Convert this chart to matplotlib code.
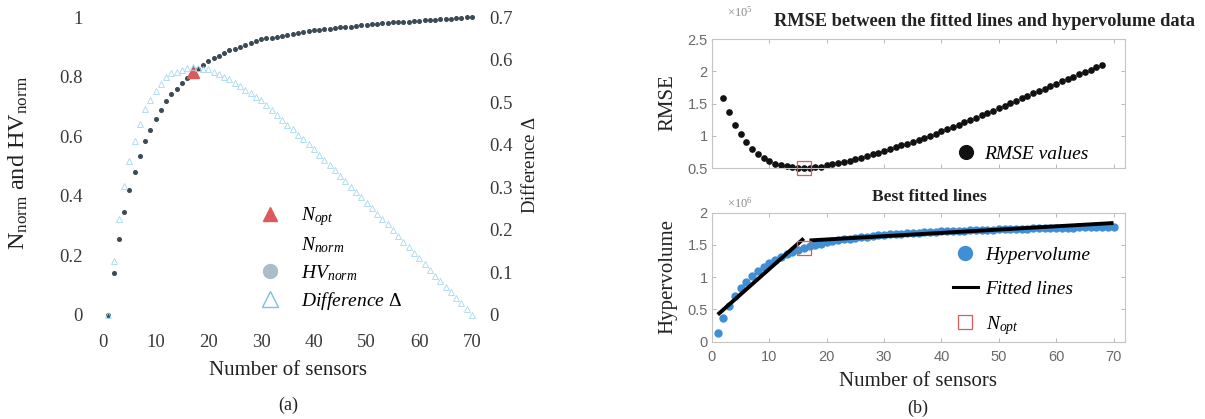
import matplotlib
matplotlib.use("Agg")
import matplotlib.pyplot as plt
from matplotlib.lines import Line2D
from matplotlib.ticker import FuncFormatter

plt.rcParams['mathtext.fontset'] = 'custom'
plt.rcParams['mathtext.rm'] = 'Liberation Serif'
plt.rcParams['mathtext.it'] = 'Liberation Serif:italic'
plt.rcParams['mathtext.bf'] = 'Liberation Serif:bold'

# ---------------- data ----------------
sensors = list(range(1, 71))

# (a) normalised hypervolume
hv_norm = [0.000, 0.140, 0.255, 0.347, 0.420, 0.481, 0.535, 0.584, 0.620, 0.657,
           0.687, 0.718, 0.742, 0.760, 0.779, 0.797, 0.815, 0.827, 0.839, 0.852,
           0.861, 0.870, 0.879, 0.888, 0.894, 0.900, 0.906, 0.912, 0.918, 0.925,
           0.928, 0.931, 0.934, 0.937, 0.940, 0.943, 0.946, 0.949, 0.952, 0.955,
           0.957, 0.959, 0.961, 0.963, 0.965, 0.967, 0.968, 0.970, 0.972, 0.974,
           0.976, 0.977, 0.979, 0.981, 0.982, 0.983, 0.984, 0.985, 0.987, 0.988,
           0.989, 0.990, 0.991, 0.993, 0.994, 0.995, 0.996, 0.998, 0.999, 1.000]

# (a) difference Delta (right axis)
delta = [0.000, 0.126, 0.226, 0.304, 0.362, 0.409, 0.448, 0.483, 0.504, 0.527,
         0.542, 0.559, 0.568, 0.572, 0.576, 0.580, 0.583, 0.581, 0.578, 0.577,
         0.571, 0.566, 0.560, 0.555, 0.546, 0.538, 0.529, 0.521, 0.512, 0.505,
         0.493, 0.482, 0.470, 0.459, 0.447, 0.436, 0.424, 0.413, 0.401, 0.390,
         0.377, 0.365, 0.352, 0.340, 0.327, 0.315, 0.301, 0.289, 0.276, 0.264,
         0.251, 0.238, 0.225, 0.213, 0.199, 0.186, 0.172, 0.159, 0.146, 0.133,
         0.119, 0.106, 0.092, 0.080, 0.066, 0.053, 0.039, 0.027, 0.013, 0.000]

n_opt = 17
n_opt_value = 0.815

# (b) RMSE (x 1e5) for breakpoints 2..68
rmse_sensors = list(range(2, 69))
rmse = [1.585, 1.363, 1.172, 1.027, 0.903, 0.800, 0.722, 0.655, 0.603, 0.567,
        0.547, 0.526, 0.515, 0.505, 0.500, 0.505, 0.510, 0.520, 0.540, 0.555,
        0.575, 0.595, 0.615, 0.635, 0.660, 0.685, 0.710, 0.735, 0.760, 0.790,
        0.820, 0.850, 0.880, 0.910, 0.940, 0.970, 1.000, 1.035, 1.070, 1.105,
        1.140, 1.175, 1.210, 1.245, 1.280, 1.320, 1.355, 1.390, 1.430, 1.468,
        1.506, 1.544, 1.582, 1.620, 1.658, 1.696, 1.734, 1.772, 1.810, 1.846,
        1.882, 1.918, 1.954, 1.990, 2.026, 2.062, 2.098]
rmse_opt_x = 16
rmse_opt_y = 0.500

# (b) hypervolume (x 1e6)
hypervolume = [0.14, 0.37, 0.56, 0.71, 0.83, 0.93, 1.02, 1.10, 1.16, 1.22,
               1.27, 1.32, 1.36, 1.39, 1.42, 1.45, 1.48, 1.50, 1.52, 1.54,
               1.555, 1.57, 1.585, 1.60, 1.61, 1.62, 1.63, 1.64, 1.65, 1.66,
               1.665, 1.67, 1.675, 1.68, 1.685, 1.69, 1.695, 1.70, 1.705, 1.71,
               1.713, 1.716, 1.72, 1.723, 1.726, 1.729, 1.732, 1.735, 1.738, 1.741,
               1.744, 1.747, 1.75, 1.752, 1.754, 1.756, 1.758, 1.76, 1.762, 1.764,
               1.766, 1.768, 1.77, 1.772, 1.774, 1.776, 1.778, 1.78, 1.782, 1.784]

fit1_x = [1, 16]
fit1_y = [0.42, 1.60]
fit2_x = [17, 70]
fit2_y = [1.57, 1.84]
hv_opt_x = 16
hv_opt_y = 1.45

# ---------------- figure ----------------
W, H = 1205, 419
fig = plt.figure(figsize=(W / 100, H / 100), dpi=100)
SERIF = 'Liberation Serif'
SANS = 'Liberation Sans'
RED = '#de5a5a'


def rect(l, t, r, b):
    return [l / W, 1 - b / H, (r - l) / W, (b - t) / H]


# ---- (a) ----
ax1 = fig.add_axes(rect(97.7, 8.1, 482.5, 323.9))
ax1.set_xlim(-1, 72)
ax1.set_ylim(-0.03, 1.03)
for s in ax1.spines.values():
    s.set_visible(False)
ax1.set_xticks(range(0, 71, 10))
ax1.set_yticks([0, 0.2, 0.4, 0.6, 0.8, 1])
ax1.yaxis.set_major_formatter(FuncFormatter(lambda v, p: '%g' % v))
ax1.tick_params(length=0, labelsize=13.5, labelcolor='#3a3a3a', pad=7)
ax1.tick_params(axis='y', pad=11)
for lab in ax1.get_xticklabels() + ax1.get_yticklabels():
    lab.set_fontfamily(SERIF)

ax2 = ax1.twinx()
ax2.set_ylim(-0.03 * 0.7, 1.03 * 0.7)
for s in ax2.spines.values():
    s.set_visible(False)
ax2.set_yticks([0, 0.1, 0.2, 0.3, 0.4, 0.5, 0.6, 0.7])
ax2.yaxis.set_major_formatter(FuncFormatter(lambda v, p: '%g' % v))
ax2.tick_params(length=0, labelsize=13.5, labelcolor='#3a3a3a', pad=5)
for lab in ax2.get_yticklabels():
    lab.set_fontfamily(SERIF)

ax2.plot(sensors, delta, linestyle='none', marker='^', markersize=4.2,
         markerfacecolor='none', markeredgecolor='#a6d8f0', markeredgewidth=0.6)
ax1.plot(sensors, hv_norm, linestyle='none', marker='o', markersize=2.6,
         color='#3b4a54', zorder=4)
ax1.plot([n_opt], [n_opt_value], linestyle='none', marker='^', markersize=9,
         color=RED, zorder=5)

fig.text(18 / W, 1 - 163 / H, r'N$_{\mathrm{norm}}$ and HV$_{\mathrm{norm}}$',
         rotation=90, ha='center', va='center', fontsize=17.5, family=SERIF,
         color='#222222')
fig.text(530 / W, 1 - 165 / H, r'Difference $\Delta$', rotation=90,
         ha='center', va='center', fontsize=13.5, family=SERIF, color='#222222')
fig.text(288 / W, 1 - 370 / H, 'Number of sensors', ha='center', va='center',
         fontsize=15, family=SERIF, color='#222222')
fig.text(288 / W, 1 - 405 / H, '(a)', ha='center', va='center',
         fontsize=13, family=SERIF, color='#222222')

h_a = [Line2D([], [], linestyle='none', marker='^', markersize=10, color=RED),
       Line2D([], [], linestyle='none', marker='o', markersize=0, color='white'),
       Line2D([], [], linestyle='none', marker='o', markersize=10, color='#a9bdca'),
       Line2D([], [], linestyle='none', marker='^', markersize=11,
              markerfacecolor='none', markeredgecolor='#7cc0e6', markeredgewidth=1)]
l_a = [r'$N_{opt}$', r'$N_{norm}$', r'$HV_{norm}$', r'$\mathit{Difference}\ \mathit{\Delta}$']
leg_a = ax1.legend(h_a, l_a, loc='upper left', bbox_to_anchor=(241 / W, 1 - 188 / H),
                   bbox_transform=fig.transFigure, frameon=False, handlelength=1.2,
                   handletextpad=1.0, labelspacing=0.38, fontsize=14)

# ---- (b) top ----
def style_b(ax):
    for s in ax.spines.values():
        s.set_color('#c4c4c4')
        s.set_linewidth(0.8)
    ax.tick_params(direction='in', length=3, width=0.6, color='#b0b0b0',
                   labelsize=10.5, labelcolor='#6a6a6a', top=True, right=True, pad=3)
    ax.tick_params(axis='x', pad=6)
    for lab in ax.get_xticklabels() + ax.get_yticklabels():
        lab.set_fontfamily(SANS)
    ax.yaxis.set_major_formatter(FuncFormatter(lambda v, p: '%g' % v))


ax3 = fig.add_axes(rect(712, 39.3, 1125, 168))
ax3.set_xlim(0, 72)
ax3.set_ylim(0.5, 2.5)
ax3.set_xticks(range(0, 71, 10))
ax3.set_yticks([0.5, 1, 1.5, 2, 2.5])
style_b(ax3)
ax3.tick_params(labelbottom=False)
ax3.plot(rmse_sensors, rmse, linestyle='none', marker='o', markersize=3.8,
         color='#111111', label='RMSE values', clip_on=False)
ax3.plot([rmse_opt_x], [rmse_opt_y], linestyle='none', marker='s', markersize=10,
         markerfacecolor='none', markeredgecolor=RED, markeredgewidth=0.9,
         clip_on=False, zorder=6)
ax3.legend(loc='upper left', bbox_to_anchor=(943 / W, 1 - 128 / H),
           bbox_transform=fig.transFigure, frameon=False, handlelength=0.6,
           handletextpad=0.6, prop={'family': SERIF, 'style': 'italic', 'size': 14},
           markerscale=2.6)
fig.text(727 / W, 1 - 12 / H, r'$\times 10^5$', ha='left', va='center',
         fontsize=9, family=SANS, color='#8a8a8a')
fig.text(985 / W, 1 - 22 / H, 'RMSE between the fitted lines and hypervolume data',
         ha='center', va='center', fontsize=13.2, family=SERIF, weight='bold',
         color='#222222')
fig.text(668 / W, 1 - 103 / H, 'RMSE', rotation=90, ha='center', va='center',
         fontsize=15, family=SERIF, color='#222222')

# ---- (b) bottom ----
ax4 = fig.add_axes(rect(712, 212.7, 1125, 341.7))
ax4.set_xlim(0, 72)
ax4.set_ylim(0, 2)
ax4.set_xticks(range(0, 71, 10))
ax4.set_yticks([0, 0.5, 1, 1.5, 2])
style_b(ax4)
ax4.plot(sensors, hypervolume, linestyle='none', marker='o', markersize=5,
         color='#3f8fd6')
ax4.plot(fit1_x, fit1_y, color='black', linewidth=2.8, solid_capstyle='butt')
ax4.plot(fit2_x, fit2_y, color='black', linewidth=2.8, solid_capstyle='butt')
ax4.plot([hv_opt_x], [hv_opt_y], linestyle='none', marker='s', markersize=10,
         markerfacecolor='none', markeredgecolor=RED, markeredgewidth=0.9, zorder=6)
h_b = [Line2D([], [], linestyle='none', marker='o', markersize=10, color='#3f8fd6'),
       Line2D([], [], color='black', linewidth=2.2),
       Line2D([], [], linestyle='none', marker='s', markersize=10,
              markerfacecolor='none', markeredgecolor=RED, markeredgewidth=0.9)]
ax4.legend(h_b, ['Hypervolume', 'Fitted lines', r'$N_{opt}$'], loc='upper left',
           bbox_to_anchor=(935 / W, 1 - 229 / H), bbox_transform=fig.transFigure,
           frameon=False, handlelength=1.3, handletextpad=0.4, labelspacing=0.82,
           prop={'family': SERIF, 'style': 'italic', 'size': 14})
fig.text(727 / W, 1 - 203 / H, r'$\times 10^6$', ha='left', va='center',
         fontsize=9, family=SANS, color='#8a8a8a')
fig.text(929 / W, 1 - 197 / H, 'Best fitted lines', ha='center', va='center',
         fontsize=12.5, family=SERIF, weight='bold', color='#222222')
fig.text(668 / W, 1 - 277 / H, 'Hypervolume', rotation=90, ha='center', va='center',
         fontsize=15, family=SERIF, color='#222222')
fig.text(918 / W, 1 - 381 / H, 'Number of sensors', ha='center', va='center',
         fontsize=15, family=SERIF, color='#222222')
fig.text(918 / W, 1 - 408 / H, '(b)', ha='center', va='center',
         fontsize=13, family=SERIF, color='#222222')

fig.savefig('out.png', dpi=100, facecolor='white')
